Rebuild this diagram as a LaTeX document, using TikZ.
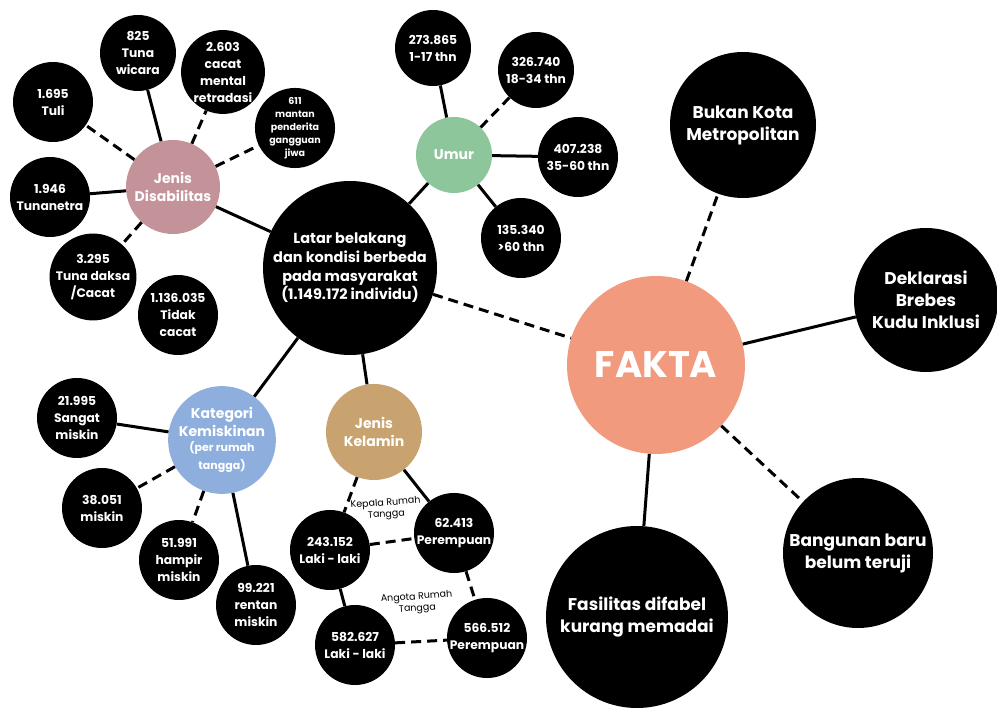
\documentclass[tikz,border=0pt]{standalone}
\usepackage{fontspec}
\setmainfont{Poppins}
\newcommand\myfs[2]{\fontsize{#1}{#2}\selectfont}
\definecolor{pinkc}{HTML}{C4939A}
\definecolor{greenc}{HTML}{8DC69B}
\definecolor{bluec}{HTML}{8EAFDD}
\definecolor{tanc}{HTML}{C8A36F}
\definecolor{salmonc}{HTML}{F29A7D}
\begin{document}
\begin{tikzpicture}[x=1pt,y=-1pt,
  bub/.style={circle,fill=black,text=white,align=center,inner sep=0pt,minimum size=80pt,font=\bfseries\myfs{12.3}{17}},
  hub/.style={bub,minimum size=94pt,font=\bfseries\myfs{14}{18}},
  big/.style={bub,minimum size=148pt,font=\bfseries\myfs{17}{22}},
  conn/.style={line width=3pt},
  dconn/.style={line width=3pt,dash pattern=on 10pt off 6pt},
  lab/.style={align=center,font=\myfs{9.5}{11.5},text=black}]
\useasboundingbox[fill=white] (0,0) rectangle (997,708);
% main hub
\node[bub,minimum size=174pt,font=\bfseries\myfs{14.5}{18.7}] (latar) at (350,268) {Latar belakang\\dan kondisi berbeda\\pada masyarakat\\(1.149.172 individu)};
% Jenis Disabilitas
\node[hub,fill=pinkc] (jd) at (173,187) {Jenis\\Disabilitas};
\node[bub,minimum size=76pt] (d825) at (138,53) {825\\Tuna\\wicara};
\node[bub,minimum size=78pt] (d2603) at (223,72) {2.603\\cacat\\mental\\retradasi};
\node[bub] (d1695) at (53,102) {1.695\\Tuli};
\node[bub,minimum size=76pt,font=\bfseries\myfs{9.5}{13}] (d611) at (295,128) {611\\mantan\\penderita\\gangguan\\jiwa};
\node[bub] (d1946) at (50,197) {1.946\\Tunanetra};
\node[bub] (d3295) at (93,277) {3.295\\Tuna daksa\\/Cacat};
\node[bub] (d1136) at (178,315) {1.136.035\\Tidak\\cacat};
% Umur
\node[hub,minimum size=76pt,fill=greenc] (umur) at (454,155) {Umur};
\node[bub,minimum size=76pt] (u1) at (433,48) {273.865\\1-17 thn};
\node[bub,minimum size=76pt] (u2) at (536,70) {326.740\\18-34 thn};
\node[bub] (u3) at (578,157) {407.238\\35-60 thn};
\node[bub] (u4) at (521,238) {135.340\\>60 thn};
% Kategori Kemiskinan
\node[hub,fill=bluec] (kk) at (222,440) {Kategori\\Kemiskinan\\[-3pt]\myfs{11}{14}(per rumah\\\myfs{11}{14}tangga)};
\node[bub] (k1) at (77,418) {21.995\\Sangat\\miskin};
\node[bub] (k2) at (102,508) {38.051\\miskin};
\node[bub] (k3) at (179,560) {51.991\\hampir\\miskin};
\node[bub] (k4) at (256,605) {99.221\\rentan\\miskin};
% Jenis Kelamin
\node[hub,minimum size=96pt,fill=tanc] (jk) at (374,432) {Jenis\\Kelamin};
\node[bub] (g1) at (330,550) {243.152\\Laki - laki};
\node[bub] (g2) at (454,533) {62.413\\Perempuan};
\node[bub] (g3) at (355,645) {582.627\\Laki - laki};
\node[bub] (g4) at (487,638) {566.512\\Perempuan};
\node[lab,rotate=4] (lk) at (386,509) {Kepala Rumah\\Tangga};
\node[lab,rotate=4] (la) at (417,603) {Angota Rumah\\Tangga};
% FAKTA
\node[bub,minimum size=178pt,fill=salmonc,font=\bfseries\myfs{37}{40}] (fakta) at (656,365) {FAKTA};
\node[big,minimum size=146pt] (f1) at (743,125) {Bukan Kota\\Metropolitan};
\node[big,minimum size=144pt] (f2) at (926,300) {Deklarasi\\Brebes\\Kudu Inklusi};
\node[big,minimum size=150pt] (f3) at (858,553) {Bangunan baru\\belum teruji};
\node[big,minimum size=182pt] (f4) at (637,617) {Fasilitas difabel\\kurang memadai};
% connectors
\draw[conn] (jd) -- (d825);
\draw[dconn] (jd) -- (d2603);
\draw[dconn] (jd) -- (d611);
\draw[dconn] (jd) -- (d1695);
\draw[conn] (jd) -- (d1946);
\draw[dconn] (jd) -- (d3295);
\draw[conn] (jd) -- (latar);
\draw[conn] (umur) -- (u1);
\draw[dconn] (umur) -- (u2);
\draw[conn] (umur) -- (u3);
\draw[conn] (umur) -- (u4);
\draw[conn] (umur) -- (latar);
\draw[dconn] (latar) -- (fakta);
\draw[conn] (kk) -- (latar);
\draw[conn] (kk) -- (k1);
\draw[dconn] (kk) -- (k2);
\draw[dconn] (kk) -- (k3);
\draw[conn] (kk) -- (k4);
\draw[conn] (latar) -- (jk);
\draw[dconn] (jk) -- (g1);
\draw[conn] (jk) -- (g2);
\draw[dconn] (g1) -- (g2);
\draw[conn] (g1) -- (g3);
\draw[dconn] (g2) -- (g4);
\draw[dconn] (g3) -- (g4);
\draw[dconn] (fakta) -- (f1);
\draw[conn] (fakta) -- (f2);
\draw[dconn] (fakta) -- (f3);
\draw[conn] (fakta) -- (f4);
\end{tikzpicture}
\end{document}
